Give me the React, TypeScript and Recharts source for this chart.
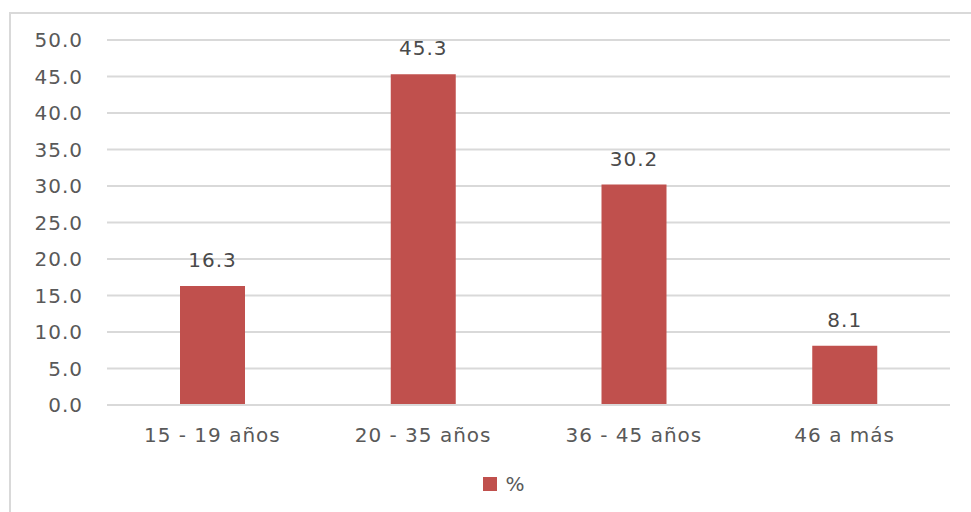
import React from "react";
import { BarChart, Bar, XAxis, YAxis, CartesianGrid, LabelList, Legend } from "recharts";

// Age groups and share (%) of respondents in each group
const categories = ["15 - 19 años", "20 - 35 años", "36 - 45 años", "46 a más"];
const percentages = [16.3, 45.3, 30.2, 8.1];
const yTicks = [0, 5, 10, 15, 20, 25, 30, 35, 40, 45, 50];
const seriesName = "%";

const data = categories.map((name, i) => ({ name, value: percentages[i] }));

const FONT = "'DejaVu Sans', 'Open Sans', sans-serif";
const BAR_COLOR = "#C0504D";
const GRID_COLOR = "#D9D9D9";
const TEXT_COLOR = "#595959";

const textStyle = { fill: TEXT_COLOR, fontSize: 20, fontFamily: FONT, letterSpacing: 1 };

const LegendContent = () => (
  <div
    style={{
      display: "flex",
      justifyContent: "center",
      alignItems: "center",
      height: 20,
      fontFamily: FONT,
      fontSize: 20,
      color: TEXT_COLOR,
    }}
  >
    <span style={{ display: "inline-block", width: 14, height: 14, background: BAR_COLOR, marginRight: 8 }} />
    <span>{seriesName}</span>
  </div>
);

export default function App() {
  return (
    <div
      style={{
        position: "absolute",
        left: 0,
        top: 0,
        width: 971,
        height: 512,
        overflow: "hidden",
        background: "#fff",
      }}
    >
      <div
        style={{
          position: "absolute",
          left: 9,
          top: 12,
          width: 1000,
          height: 530,
          border: `2px solid ${GRID_COLOR}`,
          boxSizing: "border-box",
        }}
      />
      <div style={{ position: "absolute", left: 0, top: 0 }}>
        <BarChart
          width={971}
          height={512}
          data={data}
          margin={{ top: 40, right: 21, bottom: 57, left: 0 }}
        >
          <CartesianGrid vertical={false} stroke={GRID_COLOR} strokeWidth={2} />
          <XAxis
            dataKey="name"
            height={30}
            axisLine={{ stroke: GRID_COLOR, strokeWidth: 2 }}
            tickLine={false}
            tickSize={0}
            tickMargin={23}
            tick={textStyle}
            interval={0}
          />
          <YAxis
            width={107}
            domain={[0, 50]}
            ticks={yTicks}
            axisLine={false}
            tickLine={false}
            tickSize={0}
            tickMargin={24}
            tickFormatter={(v: number) => v.toFixed(1)}
            tick={textStyle}
          />
          <Legend
            verticalAlign="bottom"
            wrapperStyle={{ top: 474, left: 0, width: 1008, height: 20 }}
            content={<LegendContent />}
          />
          <Bar dataKey="value" name={seriesName} fill={BAR_COLOR} barSize={65} isAnimationActive={false}>
            <LabelList
              dataKey="value"
              position="top"
              offset={19}
              formatter={(v: number) => v.toFixed(1)}
              style={{ ...textStyle, fill: "#4A4A4A" }}
            />
          </Bar>
        </BarChart>
      </div>
    </div>
  );
}
